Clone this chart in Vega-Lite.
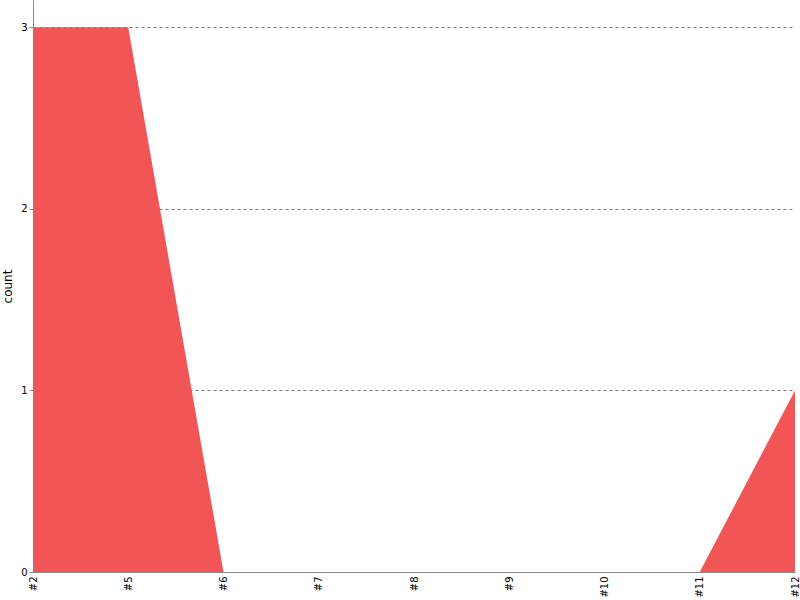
{
  "$schema": "https://vega.github.io/schema/vega-lite/v6.json",
  "autosize": {"type": "none"},
  "width": 762,
  "height": 572,
  "padding": {"left": 33, "top": 0, "right": 5, "bottom": 28},
  "config": {
    "font": "DejaVu Sans",
    "view": {"stroke": null},
    "axis": {"labelFont": "DejaVu Sans", "titleFont": "DejaVu Sans", "labelColor": "#000", "titleColor": "#000", "domainColor": "#888", "tickColor": "#888"}
  },
  "data": {
    "values": [
      {"label": "#2", "count": 3},
      {"label": "#5", "count": 3},
      {"label": "#6", "count": 0},
      {"label": "#7", "count": 0},
      {"label": "#8", "count": 0},
      {"label": "#9", "count": 0},
      {"label": "#10", "count": 0},
      {"label": "#11", "count": 0},
      {"label": "#12", "count": 1}
    ]
  },
  "mark": {"type": "area", "color": "#f25555", "opacity": 1},
  "encoding": {
    "x": {
      "field": "label",
      "type": "ordinal",
      "sort": null,
      "scale": {"type": "point", "padding": 0},
      "axis": {"title": null, "labelAngle": -90, "labelAlign": "right", "labelBaseline": "middle", "labelFontSize": 10, "ticks": false, "labelPadding": 4, "grid": false}
    },
    "y": {
      "field": "count",
      "type": "quantitative",
      "scale": {"domain": [0, 3.15], "nice": false},
      "axis": {"title": "count", "values": [0, 1, 2, 3], "format": "d", "labelFontSize": 10, "titleFontSize": 12, "titleFontWeight": "normal", "tickSize": 4, "titlePadding": 6, "grid": true, "gridDash": [3, 3], "gridColor": "#777", "gridOpacity": 1}
    }
  }
}
